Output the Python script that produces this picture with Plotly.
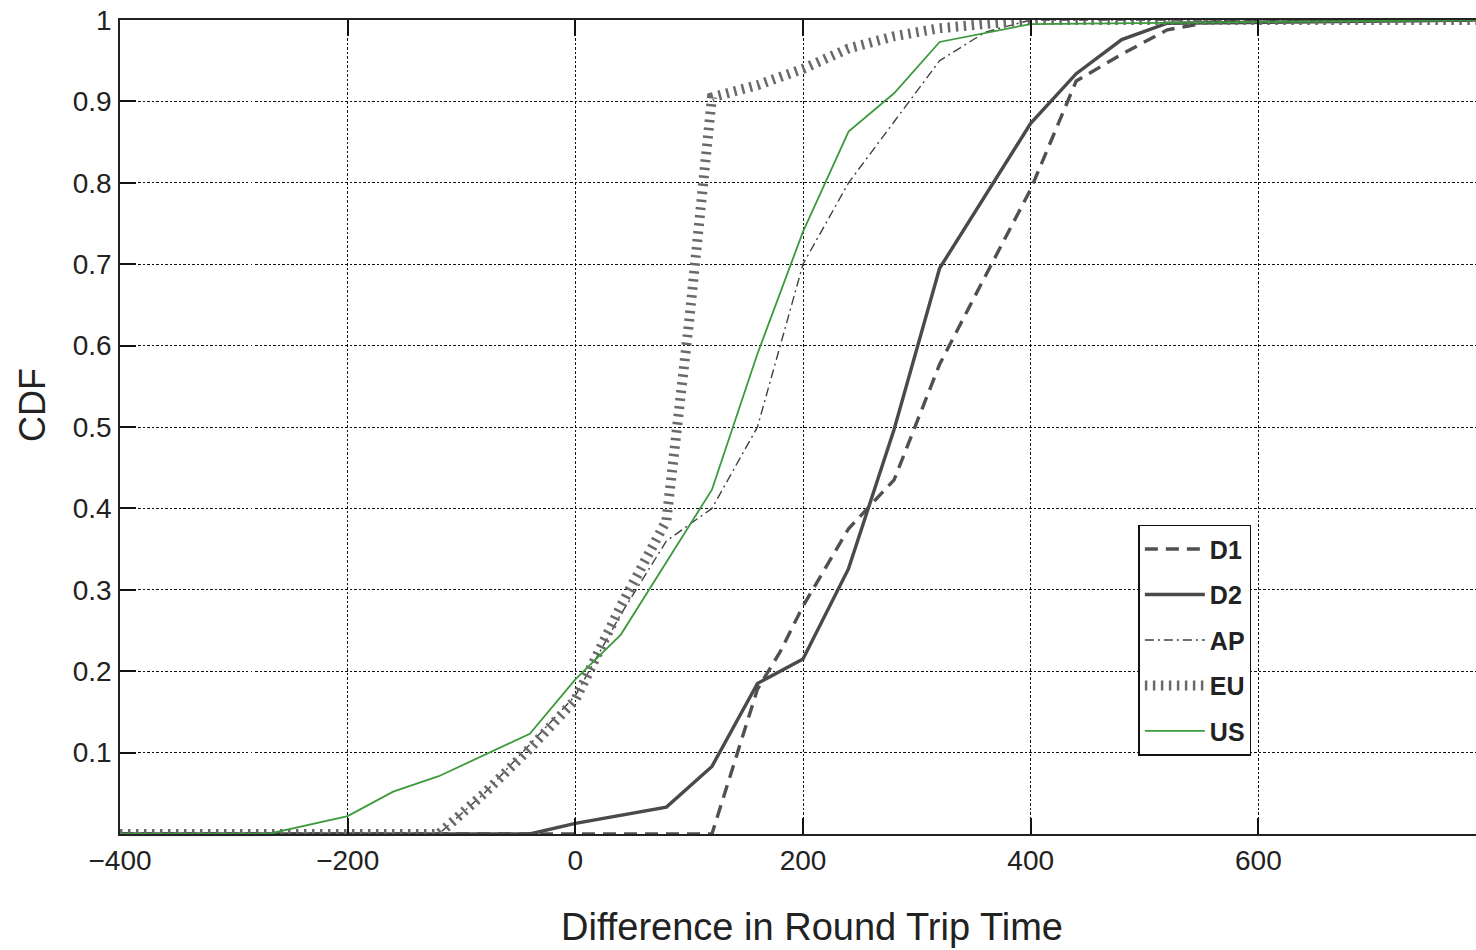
import plotly.graph_objects as go

# ---- data ----
d1_x = [-400, 120, 160, 180, 200, 240, 280, 320, 360, 400, 440, 480, 520, 560, 800]
d1_y = [0, 0, 0.178, 0.224, 0.28, 0.375, 0.435, 0.577, 0.685, 0.792, 0.925, 0.958, 0.988, 0.998, 1]

d2_x = [-400, -40, 0, 80, 120, 160, 200, 240, 280, 320, 400, 440, 480, 520, 800]
d2_y = [0, 0, 0.013, 0.033, 0.083, 0.185, 0.215, 0.326, 0.497, 0.695, 0.873, 0.934, 0.976, 0.996, 1]

ap_x = [-400, -120, -80, -40, 0, 40, 80, 120, 160, 200, 240, 280, 320, 360, 400, 800]
ap_y = [0, 0, 0.05, 0.11, 0.17, 0.27, 0.36, 0.40, 0.50, 0.70, 0.80, 0.875, 0.95, 0.985, 1, 1]

eu_x = [-400, -120, -80, -40, 0, 40, 80, 100, 120, 160, 200, 240, 280, 320, 400, 800]
eu_y = [0, 0, 0.05, 0.105, 0.165, 0.28, 0.385, 0.63, 0.905, 0.92, 0.94, 0.965, 0.98, 0.99, 1, 1]

us_x = [-400, -270, -200, -160, -120, -40, 0, 40, 120, 160, 200, 240, 280, 320, 400, 800]
us_y = [0, 0, 0.022, 0.052, 0.071, 0.123, 0.19, 0.245, 0.423, 0.59, 0.74, 0.863, 0.91, 0.973, 0.995, 1]

x_ticks = [-400, -200, 0, 200, 400, 600]
x_ticktext = ["\u2212400", "\u2212200", "0", "200", "400", "600"]
y_ticks = [0.1, 0.2, 0.3, 0.4, 0.5, 0.6, 0.7, 0.8, 0.9, 1.0]
y_ticktext = ["0.1", "0.2", "0.3", "0.4", "0.5", "0.6", "0.7", "0.8", "0.9", "1"]

FONT = "Arial, Liberation Sans, sans-serif"

fig = go.Figure()
series = [
    ("D1", d1_x, d1_y, dict(color="#505050", width=3.4, dash="13px,8px")),
    ("D2", d2_x, d2_y, dict(color="#4a4a4a", width=3.4)),
    ("AP", ap_x, ap_y, dict(color="#404040", width=1.4, dash="9px,4px,2px,4px")),
    ("EU", eu_x, eu_y, dict(color="#6a6a6a", width=10, dash="2.5px,5.5px")),
    ("US", us_x, us_y, dict(color="#3c9a3c", width=1.8)),
]
for name, xs, ys, ln in series:
    fig.add_trace(go.Scatter(x=xs, y=ys, mode="lines", name=name, line=ln,
                             legendgroup=name))

axis_common = dict(
    showline=True, linecolor="#222222", linewidth=1.6,
    ticks="inside", ticklen=16, tickwidth=2, tickcolor="#111111",
    showgrid=True, gridcolor="#111111", gridwidth=1.4,
    griddash="2.5px,2.5px,1.5px,2.5px",
    zeroline=False,
    tickfont=dict(family=FONT, size=28, color="#222222"),
)

fig.update_layout(
    width=1476, height=950,
    margin=dict(l=120, r=0, t=20, b=116),
    paper_bgcolor="white", plot_bgcolor="white",
    font=dict(family=FONT),
    xaxis=dict(range=[-400, 791.2], tickvals=x_ticks, ticktext=x_ticktext,
               mirror="ticks", ticklabelstandoff=1, layer="above traces",
               **axis_common),
    yaxis=dict(range=[0, 1], tickvals=y_ticks, ticktext=y_ticktext,
               mirror=False, ticklabelstandoff=1, layer="above traces",
               **axis_common),
    showlegend=True,
    legend=dict(
        x=0.751, y=0.38, xanchor="left", yanchor="top",
        bgcolor="white", bordercolor="#111111", borderwidth=1.5,
        font=dict(family=FONT, size=25, color="#222222", weight="bold"),
        tracegroupgap=10, itemwidth=60,
    ),
    annotations=[
        dict(text="Difference in Round Trip Time", xref="paper", yref="paper",
             x=0.51, y=0, yshift=-93, xanchor="center", yanchor="middle",
             showarrow=False, font=dict(family=FONT, size=38, color="#222222")),
        dict(text="CDF", xref="paper", yref="paper", x=0, xshift=-88,
             y=0.527, xanchor="center", yanchor="middle", textangle=-90,
             showarrow=False, font=dict(family=FONT, size=36, color="#222222")),
    ],
)

fig.write_html("out.html")
